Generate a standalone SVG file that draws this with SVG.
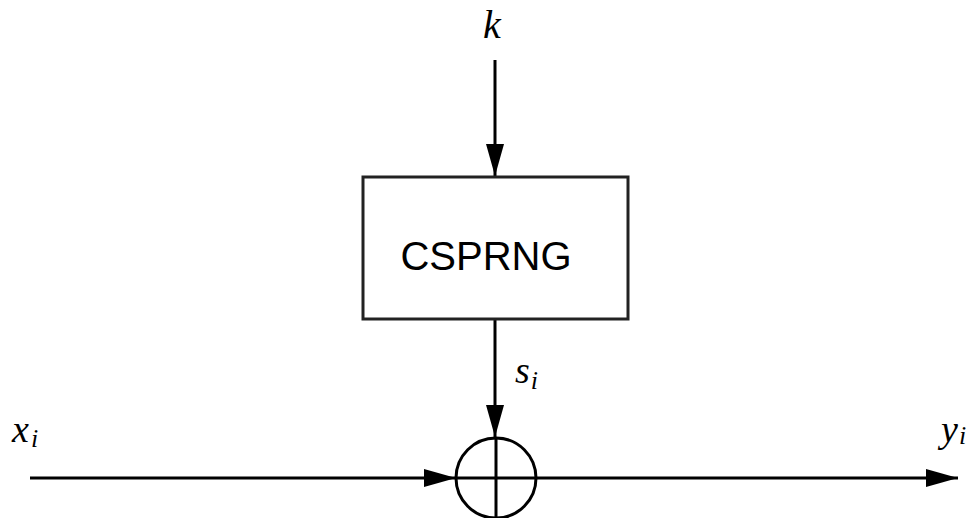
<svg xmlns="http://www.w3.org/2000/svg" width="974" height="518" viewBox="0 0 974 518">
  <style>
    .wire { stroke: #000; stroke-width: 3; fill: none; }
    .math { font-family: "Liberation Serif", "DejaVu Serif", serif; font-style: italic; fill: #000; }
    .sub { font-size: 26px; }
  </style>
  <defs>
    <marker id="arrow" markerUnits="userSpaceOnUse" markerWidth="34" markerHeight="20" refX="32" refY="9" orient="auto">
      <path d="M0,0 L32,9 L0,18 Z" fill="#000"/>
    </marker>
  </defs>
  <rect width="974" height="518" fill="#fff"/>

  <!-- wires -->
  <g id="connectors">
    <line class="wire" x1="495" y1="60" x2="495" y2="176" marker-end="url(#arrow)"/>
    <line class="wire" x1="495" y1="319" x2="495" y2="437" marker-end="url(#arrow)"/>
    <line class="wire" x1="30" y1="478" x2="456" y2="478" marker-end="url(#arrow)"/>
    <line class="wire" x1="536" y1="478" x2="958" y2="478" marker-end="url(#arrow)"/>
  </g>

  <!-- generator block -->
  <g id="csprng">
    <rect x="363" y="177" width="265" height="142" fill="#fff" stroke="#222" stroke-width="3"/>
    <text x="486" y="270" text-anchor="middle" font-family="Liberation Sans, Arial, sans-serif" font-size="40" fill="#000">CSPRNG</text>
  </g>

  <!-- XOR combiner -->
  <g id="xor">
    <circle cx="496" cy="478" r="40" class="wire"/>
    <line class="wire" x1="456" y1="478" x2="536" y2="478"/>
    <line class="wire" x1="496" y1="437" x2="496" y2="518"/>
  </g>

  <!-- labels -->
  <g id="label-k"><text class="math" x="483" y="38" font-size="40">k</text></g>
  <g id="label-s"><text class="math" x="515" y="383" font-size="38">s<tspan class="sub" dx="1" dy="6">i</tspan></text></g>
  <g id="label-x"><text class="math" x="12" y="442" font-size="38">x<tspan class="sub" dx="2" dy="5">i</tspan></text></g>
  <g id="label-y"><text class="math" x="941" y="442" font-size="38">y<tspan class="sub" dx="1" dy="2">i</tspan></text></g>
</svg>
